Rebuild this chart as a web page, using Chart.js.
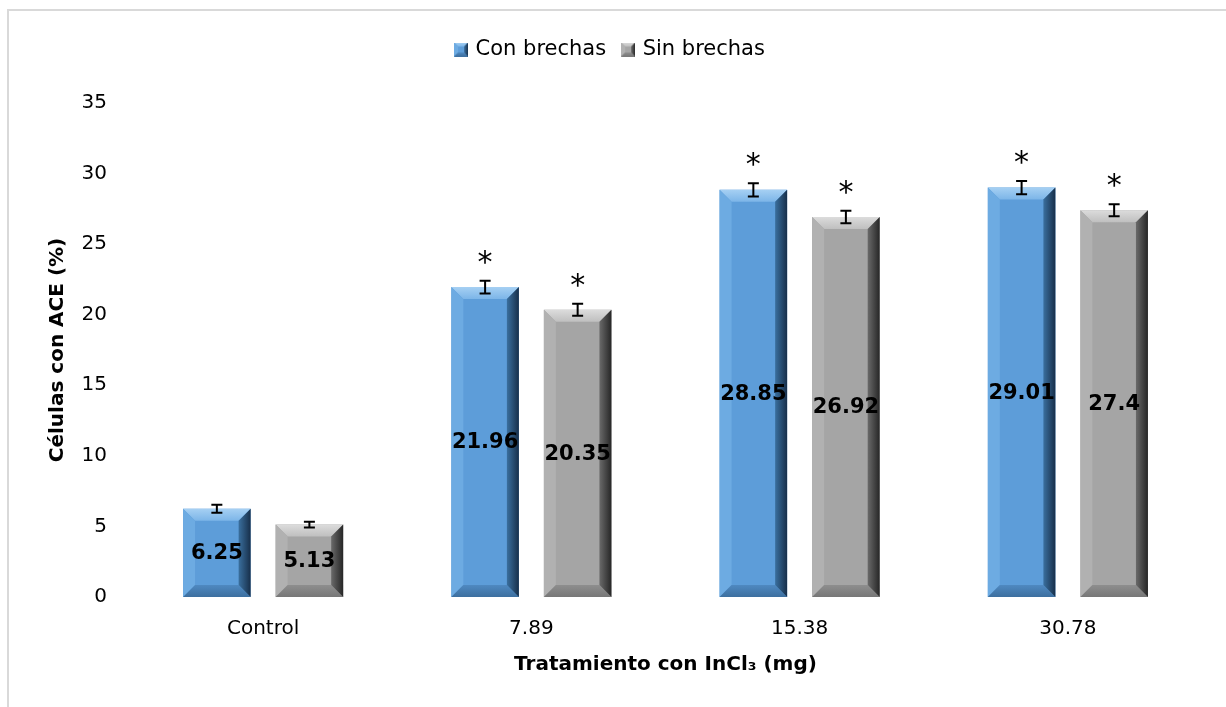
<!DOCTYPE html>
<html>
<head>
<meta charset="utf-8">
<script src="https://cdn.jsdelivr.net/npm/chart.js@4/dist/chart.umd.min.js"></script>
<style>
  html, body { margin: 0; padding: 0; background: #fff; }
  #wrap { position: relative; width: 1226px; height: 707px; }
</style>
</head>
<body>
<div id="wrap"><canvas id="c" width="1226" height="707"></canvas></div>
<script>
// ---- data ----
const categories = ['Control', '7.89', '15.38', '30.78'];
const seriesNames = ['Con brechas', 'Sin brechas'];
const conBrechas = [6.25, 21.96, 28.85, 29.01];
const sinBrechas = [5.13, 20.35, 26.92, 27.4];
const conBrechasErr = [0.28, 0.45, 0.47, 0.47];
const sinBrechasErr = [0.21, 0.42, 0.44, 0.43];
const conBrechasSig = [false, true, true, true];
const sinBrechasSig = [false, true, true, true];
const yMin = 0, yMax = 35, yStep = 5;
const yTitle = 'Células con ACE (%)';
const xTitle = 'Tratamiento con InCl₃ (mg)';

// ---- styles ----
const FONT = "'DejaVu Sans', sans-serif";
const palettes = [
  { face: '#5d9dd9', topA: '#a6d0f3', topB: '#7cb5e8', left: '#6dabe2',
    rightA: '#3a6f9e', rightB: '#172f4a', botA: '#4f89c1', botB: '#3d6f9f' },
  { face: '#a5a5a5', topA: '#dcdcdc', topB: '#bfbfbf', left: '#b1b1b1',
    rightA: '#6a6a6a', rightB: '#262626', botA: '#8e8e8e', botB: '#777777' }
];

function drawBevel(ctx, l, t, r, b, p, bv) {
  bv = Math.min(bv, (r - l) / 2.5, (b - t) / 2.5);
  ctx.save();
  let g;
  g = ctx.createLinearGradient(0, t, 0, t + bv);
  g.addColorStop(0, p.topA); g.addColorStop(1, p.topB);
  ctx.fillStyle = g;
  ctx.beginPath(); ctx.moveTo(l, t); ctx.lineTo(r, t); ctx.lineTo(r - bv, t + bv); ctx.lineTo(l + bv, t + bv); ctx.closePath(); ctx.fill();
  ctx.fillStyle = p.left;
  ctx.beginPath(); ctx.moveTo(l, t); ctx.lineTo(l + bv, t + bv); ctx.lineTo(l + bv, b - bv); ctx.lineTo(l, b); ctx.closePath(); ctx.fill();
  g = ctx.createLinearGradient(0, b - bv, 0, b);
  g.addColorStop(0, p.botA); g.addColorStop(1, p.botB);
  ctx.fillStyle = g;
  ctx.beginPath(); ctx.moveTo(l, b); ctx.lineTo(r, b); ctx.lineTo(r - bv, b - bv); ctx.lineTo(l + bv, b - bv); ctx.closePath(); ctx.fill();
  g = ctx.createLinearGradient(r - bv, 0, r, 0);
  g.addColorStop(0, p.rightA); g.addColorStop(1, p.rightB);
  ctx.fillStyle = g;
  ctx.beginPath(); ctx.moveTo(r, t); ctx.lineTo(r, b); ctx.lineTo(r - bv, b - bv); ctx.lineTo(r - bv, t + bv); ctx.closePath(); ctx.fill();
  ctx.restore();
}

function makeIcon(p) {
  const cv = document.createElement('canvas');
  cv.width = 14; cv.height = 14;
  const c = cv.getContext('2d');
  c.fillStyle = p.face; c.fillRect(0, 0, 14, 14);
  drawBevel(c, 0, 0, 14, 14, p, 4);
  return cv;
}
const icons = palettes.map(makeIcon);

const errs = [conBrechasErr, sinBrechasErr];
const sigs = [conBrechasSig, sinBrechasSig];

const framePlugin = {
  id: 'frame',
  beforeDraw(chart) {
    const ctx = chart.ctx;
    ctx.save();
    ctx.strokeStyle = '#d9d9d9';
    ctx.lineWidth = 2;
    ctx.beginPath();
    ctx.moveTo(8, chart.height + 2); ctx.lineTo(8, 10); ctx.lineTo(chart.width + 2, 10);
    ctx.stroke();
    ctx.restore();
  }
};

const decoPlugin = {
  id: 'deco',
  afterDatasetsDraw(chart) {
    const ctx = chart.ctx;
    const yScale = chart.scales.y;
    chart.data.datasets.forEach((ds, i) => {
      const meta = chart.getDatasetMeta(i);
      meta.data.forEach((bar) => {
        const { x, y, base, width } = bar.getProps(['x', 'y', 'base', 'width'], true);
        drawBevel(ctx, x - width / 2, y, x + width / 2, base, palettes[i], 12);
      });
    });
    chart.data.datasets.forEach((ds, i) => {
      const meta = chart.getDatasetMeta(i);
      meta.data.forEach((bar, j) => {
        const { x, y, base } = bar.getProps(['x', 'y', 'base'], true);
        const v = ds.data[j];
        const e = errs[i][j];
        const yT = yScale.getPixelForValue(v + e);
        const yB = yScale.getPixelForValue(v - e);
        ctx.save();
        ctx.strokeStyle = '#000';
        ctx.lineWidth = 2;
        ctx.beginPath();
        ctx.moveTo(x, yT); ctx.lineTo(x, yB);
        ctx.moveTo(x - 5.5, yT); ctx.lineTo(x + 5.5, yT);
        ctx.moveTo(x - 5.5, yB); ctx.lineTo(x + 5.5, yB);
        ctx.stroke();
        if (sigs[i][j]) {
          ctx.fillStyle = '#000';
          ctx.font = '30px ' + FONT;
          ctx.textAlign = 'center';
          ctx.textBaseline = 'alphabetic';
          ctx.fillText('*', x, yT - 9);
        }
        ctx.fillStyle = '#000';
        ctx.font = 'bold 21px ' + FONT;
        ctx.textAlign = 'center';
        ctx.textBaseline = 'middle';
        ctx.fillText(String(v), x, (y + base) / 2 + 1);
        ctx.restore();
      });
    });
  }
};

const defaultGen = Chart.defaults.plugins.legend.labels.generateLabels;

new Chart(document.getElementById('c'), {
  type: 'bar',
  data: {
    labels: categories,
    datasets: [
      { label: seriesNames[0], data: conBrechas, backgroundColor: palettes[0].face, borderWidth: 0,
        categoryPercentage: 0.69, barPercentage: 0.73 },
      { label: seriesNames[1], data: sinBrechas, backgroundColor: palettes[1].face, borderWidth: 0,
        categoryPercentage: 0.69, barPercentage: 0.73 }
    ]
  },
  options: {
    responsive: false,
    animation: false,
    layout: { padding: { left: 20, right: 24, top: 21, bottom: 0 } },
    plugins: {
      tooltip: { enabled: false },
      legend: {
        position: 'top',
        labels: {
          usePointStyle: true,
          pointStyleWidth: 8,
          font: { family: FONT, size: 21 },
          color: '#000',
          padding: 18,
          generateLabels(chart) {
            const items = defaultGen(chart);
            items.forEach((it, k) => { it.pointStyle = icons[k]; });
            return items;
          }
        }
      }
    },
    scales: {
      x: {
        grid: { display: false },
        border: { display: false },
        ticks: { font: { family: FONT, size: 20 }, color: '#000', padding: 12 },
        title: { display: true, text: xTitle, font: { family: FONT, size: 20, weight: 'bold' }, color: '#000',
                 padding: { top: 0, bottom: 30 } },
        afterFit(s) { s.height = 110; }
      },
      spacer: {
        type: 'category',
        position: 'top',
        display: true,
        grid: { display: false },
        border: { display: false },
        ticks: { display: false },
        afterFit(s) { s.height = 33; }
      },
      y: {
        min: yMin, max: yMax,
        grid: { display: false },
        border: { display: false },
        ticks: { stepSize: yStep, font: { family: FONT, size: 20 }, color: '#000', padding: 14 },
        title: { display: true, text: yTitle, font: { family: FONT, size: 20, weight: 'bold' }, color: '#000',
                 padding: { top: 26, bottom: 0 } },
        afterFit(s) { s.width = 109; }
      }
    }
  },
  plugins: [framePlugin, decoPlugin]
});
</script>
</body>
</html>
